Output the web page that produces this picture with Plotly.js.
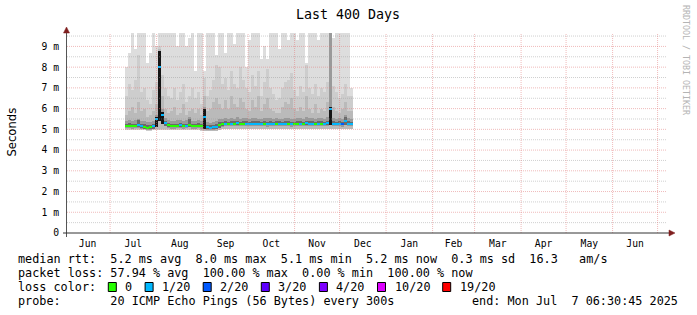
<!DOCTYPE html>
<html>
<head>
<meta charset="utf-8">
<script src="https://cdn.plot.ly/plotly-3.0.1.min.js"></script>
<style>html,body{margin:0;padding:0;background:#fff;}#chart{width:697px;height:315px;}</style>
</head>
<body>
<div id="chart"></div>
<script>
// ---- data (one bin = 2 days) ----
const dates = [
'2024-07-11','2024-07-13','2024-07-15','2024-07-17','2024-07-19','2024-07-21','2024-07-23','2024-07-25','2024-07-27','2024-07-29','2024-07-31',
'2024-08-02','2024-08-04','2024-08-06','2024-08-08','2024-08-10','2024-08-12','2024-08-14','2024-08-16','2024-08-18','2024-08-20','2024-08-22','2024-08-24','2024-08-26','2024-08-28','2024-08-30',
'2024-09-01','2024-09-03','2024-09-05','2024-09-07','2024-09-09','2024-09-11','2024-09-13','2024-09-15','2024-09-17','2024-09-19','2024-09-21','2024-09-23','2024-09-25','2024-09-27','2024-09-29',
'2024-10-01','2024-10-03','2024-10-05','2024-10-07','2024-10-09','2024-10-11','2024-10-13','2024-10-15','2024-10-17','2024-10-19','2024-10-21','2024-10-23','2024-10-25','2024-10-27','2024-10-29','2024-10-31',
'2024-11-02','2024-11-04','2024-11-06','2024-11-08','2024-11-10','2024-11-12','2024-11-14','2024-11-16','2024-11-18','2024-11-20','2024-11-22','2024-11-24','2024-11-26','2024-11-28','2024-11-30',
'2024-12-02','2024-12-04','2024-12-06','2024-12-08'];

// smoke floor (ms)
const smokeLow = [
4.97,4.97,4.97,4.97,4.97,4.97,4.97,4.93,4.93,4.97,4.97,
4.97,4.97,4.97,4.97,4.97,4.97,4.97,4.97,4.97,4.97,4.97,4.97,4.97,4.97,4.92,
4.90,4.90,4.90,4.90,4.90,4.95,5.00,5.00,5.00,5.00,5.00,5.00,5.00,5.00,5.00,
5.00,5.00,5.00,5.00,5.00,5.00,5.00,5.00,5.00,5.00,5.00,5.00,5.00,5.00,5.00,5.00,
5.00,5.00,5.00,5.00,5.00,5.00,5.00,5.00,5.00,5.00,5.00,5.00,5.00,5.00,5.00,
5.00,5.00,5.00,5.00];

// outermost smoke (max ping), clipped at top of graph
const smokeTop = [
8.0,8.7,9.7,8.9,9.7,9.7,9.7,8.2,8.7,9.7,9.0,
9.7,9.7,9.7,9.7,9.7,9.7,9.0,9.7,9.7,9.0,9.4,9.7,7.8,9.7,9.7,
7.8,9.7,9.7,9.7,8.6,9.7,9.7,8.7,9.7,9.7,9.1,9.7,9.7,9.7,8.0,
9.3,9.7,9.7,9.7,8.4,9.0,8.4,9.7,9.7,9.7,8.9,9.7,9.7,9.3,9.7,9.7,
9.3,9.7,9.7,8.2,9.7,9.7,9.7,9.3,9.7,9.7,9.7,9.7,9.4,9.7,9.7,
9.7,9.7,9.7,7.0];

const smokeMid = [
6.6,7.2,6.9,7.4,8.6,6.8,7.0,6.4,6.2,6.9,7.3,
9.0,7.6,7.0,6.6,6.5,7.0,6.4,6.8,7.2,6.3,6.6,7.0,6.5,6.8,6.2,
7.5,6.6,6.9,7.4,8.1,8.0,7.2,7.5,6.9,7.8,7.2,7.0,8.0,7.4,7.0,
6.8,7.6,7.1,7.8,6.6,7.3,7.9,7.0,6.7,6.4,6.5,7.0,7.3,7.4,7.7,6.9,
6.6,7.1,6.8,8.1,7.0,6.7,7.2,6.6,7.0,6.8,7.3,9.7,7.1,6.8,6.5,
6.7,7.2,6.6,6.6];

const smokeInner = [
5.7,5.9,6.1,5.8,6.3,5.9,6.0,5.6,5.7,5.9,6.2,
8.9,6.6,6.0,5.8,5.9,6.1,5.7,5.8,6.2,5.7,5.9,6.0,5.8,6.0,5.7,
6.6,5.9,6.0,6.3,6.5,6.2,6.0,6.4,6.0,6.6,6.2,6.1,6.5,6.3,6.0,
5.9,6.4,6.1,6.6,5.9,6.2,6.5,6.0,5.9,5.8,5.8,6.1,6.3,6.2,6.5,6.0,
5.9,6.1,5.9,6.6,6.0,5.8,6.2,5.8,6.0,5.9,6.3,9.7,6.1,5.9,5.8,
6.0,6.3,5.9,5.9];

const smokeCore = [
5.42,5.45,5.40,5.44,5.50,5.40,5.38,5.35,5.36,5.42,5.70,
8.80,6.00,5.55,5.45,5.42,5.40,5.44,5.46,5.42,5.44,5.60,5.42,5.40,5.45,5.42,
6.10,5.35,5.33,5.36,5.40,5.50,5.50,5.55,5.52,5.55,5.50,5.58,5.52,5.54,5.55,
5.52,5.55,5.56,5.52,5.50,5.55,5.53,5.56,5.50,5.55,5.52,5.50,5.55,5.56,5.52,5.50,
5.55,5.56,5.52,5.60,5.55,5.53,5.50,5.55,5.56,5.52,5.60,9.70,5.55,5.52,5.55,
5.50,5.70,5.55,5.52];

const smokeDark = [
5.28,5.30,5.27,5.28,5.45,5.26,5.24,5.20,5.22,5.28,5.60,
8.80,5.85,5.40,5.30,5.26,5.27,5.28,5.32,5.27,5.28,5.50,5.27,5.26,5.30,5.28,
6.00,5.22,5.20,5.22,5.24,5.34,5.37,5.38,5.37,5.40,5.38,5.41,5.37,5.38,5.40,
5.37,5.38,5.40,5.38,5.37,5.38,5.36,5.38,5.37,5.40,5.38,5.37,5.38,5.40,5.36,5.37,
5.38,5.40,5.37,5.42,5.40,5.38,5.37,5.38,5.40,5.37,5.42,6.10,5.38,5.37,5.38,
5.36,5.60,5.38,5.37];

// median rtt (ms)
const median = [
5.17,5.18,5.16,5.17,5.19,5.15,5.13,5.08,5.10,5.16,5.48,
8.00,5.70,5.30,5.20,5.15,5.16,5.17,5.20,5.15,5.17,5.22,5.16,5.15,5.18,5.16,
5.60,5.10,5.08,5.10,5.12,5.22,5.25,5.27,5.26,5.28,5.27,5.30,5.26,5.27,5.28,
5.26,5.27,5.28,5.27,5.26,5.27,5.25,5.27,5.26,5.28,5.27,5.26,5.27,5.28,5.25,5.26,
5.27,5.28,5.26,5.30,5.28,5.27,5.26,5.27,5.28,5.26,5.30,6.00,5.27,5.26,5.27,
5.25,5.40,5.27,5.26];

// lost pings per bin (out of 20)
const loss = [
0,0,0,0,1,1,0,0,0,1,1,
1,1,1,0,0,0,0,1,0,1,0,0,0,0,0,
1,1,1,1,1,0,0,1,0,1,0,1,0,0,1,
1,1,1,1,1,0,1,1,1,0,1,1,1,0,1,0,
0,1,0,1,1,1,0,1,0,1,1,1,1,1,1,
2,1,1,1];

const lossLevels = [0, 1, 2, 3, 4, 10, 19];
const lossLabels = ['0', '1/20', '2/20', '3/20', '4/20', '10/20', '19/20'];
const lossColors = ['#26ff00', '#00b8ff', '#0059ff', '#5e00ff', '#7e00ff', '#dd00ff', '#ff0000'];

const yTickVals = [0, 1, 2, 3, 4, 5, 6, 7, 8, 9];
const yTickText = ['0', '1 m', '2 m', '3 m', '4 m', '5 m', '6 m', '7 m', '8 m', '9 m'];

const statsLine1 = 'median rtt:  5.2 ms avg  8.0 ms max  5.1 ms min  5.2 ms now  0.3 ms sd  16.3   am/s';
const statsLine2 = 'packet loss: 57.94 % avg  100.00 % max  0.00 % min  100.00 % now';
const probeLine = 'probe:       20 ICMP Echo Pings (56 Bytes) every 300s';
const endLine = 'end: Mon Jul  7 06:30:45 2025';

// ---- drawing ----
const DAY = 86400000;
const MONO = 'DejaVu Sans Mono';
const X0 = '2024-06-02 06:30:45', X1 = '2025-07-07 06:30:45';
const L = 67, T = 33, W = 600, H = 200;
const YMAX = H / 20.73;
const nb = s => s.replace(/ /g, '\u00a0');

function band(base, top, color) {
  return {
    type: 'bar', x: dates, base: base, y: top.map((t, i) => t - base[i]),
    offset: 0, width: 2 * DAY, marker: {color: color, line: {width: 0}},
    hoverinfo: 'skip'
  };
}
const coreBase = median.map(m => m - 0.12);
// dark core reaches down to the lowest neighbouring median (so spikes are solid)
const darkBase = median.map((m, i) =>
  Math.min(m, median[Math.max(0, i - 1)], median[Math.min(median.length - 1, i + 1)]) - 0.06);
const darkTrace = band(darkBase, smokeDark, '#666');
darkTrace.marker.color = smokeDark.map((v, i) => (v - median[i] > 0.3 || median[i] - darkBase[i] > 0.3 ? '#141414' : '#6a6a6a'));
const traces = [
  band(smokeLow, smokeTop, '#dddddd'),
  band(smokeLow, smokeMid, '#cdcdcd'),
  band(smokeLow.map(v => v + 0.04), smokeInner, '#bababa'),
  band(coreBase, smokeCore, '#9a9a9a'),
  darkTrace,
  {
    type: 'bar', x: dates, base: median.map(m => m - 0.05), y: median.map(() => 0.1),
    offset: 0, width: 2 * DAY,
    marker: {color: loss.map(l => lossColors[lossLevels.indexOf(l)]), line: {width: 0}},
    hoverinfo: 'skip'
  }
];

const ann = [];
function txt(text, px, py, opts) {
  ann.push(Object.assign({
    text: nb(text), xref: 'paper', yref: 'paper', x: 0, y: 0,
    xshift: px - L, yshift: -(py - (T + H)), xanchor: 'left', yanchor: 'middle',
    showarrow: false, font: {family: MONO, size: 11.8, color: '#000'}
  }, opts || {}));
}
txt(statsLine1, 16, 259);
txt(statsLine2, 16, 273);
txt('loss color:', 16, 287);
txt(probeLine, 16, 301);
txt(endLine, 680, 301, {xanchor: 'right'});

const shapes = [];

// grid drawn over the data, like rrdtool does
const MAJ = 'rgba(225,120,120,0.5)', MIN = 'rgba(150,150,150,0.45)';
yTickVals.forEach(v => {
  if (v > 0) shapes.push({type: 'line', xref: 'paper', yref: 'y', x0: 0, x1: 1, y0: v, y1: v,
    line: {color: MAJ, width: 1, dash: '1px,1px'}, layer: 'above'});
  shapes.push({type: 'line', xref: 'paper', yref: 'y', x0: 0, x1: 1, y0: v + 0.5, y1: v + 0.5,
    line: {color: MIN, width: 1, dash: '1px,1px'}, layer: 'above'});
});
for (let m = 6; m <= 18; m++) {
  const d = new Date(Date.UTC(2024, m, 1)).toISOString().slice(0, 10);
  shapes.push({type: 'line', xref: 'x', yref: 'paper', x0: d, x1: d, y0: 0, y1: 1,
    line: {color: MAJ, width: 1, dash: '1px,1px'}, layer: 'above'});
}

const boxX = [108.3, 145.1, 203.2, 261.3, 319.4, 377.5, 442.7];
lossLabels.forEach((lab, k) => {
  txt(lab, boxX[k] + 15, 287);
  shapes.push({
    type: 'rect', xref: 'paper', yref: 'paper', xsizemode: 'pixel', ysizemode: 'pixel',
    xanchor: 0, yanchor: 0,
    x0: boxX[k] - L, x1: boxX[k] + 8 - L, y0: -(291.5 - (T + H)), y1: -(282.5 - (T + H)),
    fillcolor: lossColors[k], line: {color: '#000', width: 1}, layer: 'above'
  });
});

// Y axis title and watermark
ann.push({text: 'Seconds', xref: 'paper', yref: 'paper', x: 0, y: (T + H - 132.5) / H,
  xshift: 11 - L, xanchor: 'center', yanchor: 'middle', textangle: -90, showarrow: false,
  font: {family: 'DejaVu Sans', size: 11.6, color: '#000'}});
ann.push({text: nb('RRDTOOL / TOBI OETIKER'), xref: 'paper', yref: 'paper', x: 1, y: (T + H - 60) / H,
  xshift: 686 - (L + W), xanchor: 'center', yanchor: 'middle', textangle: 90, showarrow: false,
  font: {family: MONO, size: 8.3, color: '#b4b4b4'}});

// axis lines and arrows (pixel-anchored decorations)
function pxShape(s) {
  return Object.assign({xref: 'paper', yref: 'paper', xsizemode: 'pixel', ysizemode: 'pixel',
    xanchor: 0, yanchor: 0, layer: 'above'}, s);
}
shapes.push(pxShape({type: 'line', x0: -0.5, x1: -0.5, y0: -4, y1: H + 2, line: {color: '#555', width: 1}}));
shapes.push(pxShape({type: 'line', x0: -4, x1: W + 3, y0: 0, y1: 0, line: {color: '#333', width: 1}}));
shapes.push(pxShape({type: 'path', path: `M -3.5 ${H} L 2.5 ${H} L -0.5 ${H + 6} Z`,
  fillcolor: '#7f1f1f', line: {color: '#7f1f1f', width: 0.5}}));
shapes.push(pxShape({type: 'path', path: `M ${W + 2} -3 L ${W + 2} 3 L ${W + 8} 0 Z`,
  fillcolor: '#7f1f1f', line: {color: '#7f1f1f', width: 0.5}}));

const layout = {
  width: 697, height: 315,
  margin: {l: L, r: 697 - L - W, t: T, b: 315 - T - H, pad: 0},
  paper_bgcolor: '#ffffff', plot_bgcolor: '#ffffff',
  showlegend: false, barmode: 'overlay', bargap: 0, hovermode: false,
  title: {text: 'Last 400 Days', font: {family: MONO, size: 13.3, color: '#000'},
    x: 348 / 697, xanchor: 'center', y: 1 - 14 / 315, yanchor: 'middle'},
  xaxis: {
    type: 'date', range: [X0, X1],
    tick0: '2024-06-01', dtick: 'M1', ticklabelmode: 'period', tickformat: '%b',
    showgrid: false, zeroline: false, showline: false, ticks: '', ticklabelstandoff: 3,
    tickfont: {family: MONO, size: 9.7, color: '#000'}, fixedrange: true
  },
  yaxis: {
    range: [0, YMAX], tickmode: 'array', tickvals: yTickVals, ticktext: yTickText,
    showgrid: false, zeroline: false, showline: false, ticks: '', ticklabelstandoff: 7,
    tickfont: {family: MONO, size: 9.7, color: '#000'}, fixedrange: true
  },
  annotations: ann,
  shapes: shapes
};

Plotly.newPlot('chart', traces, layout, {staticPlot: true, displayModeBar: false});
</script>
</body>
</html>
